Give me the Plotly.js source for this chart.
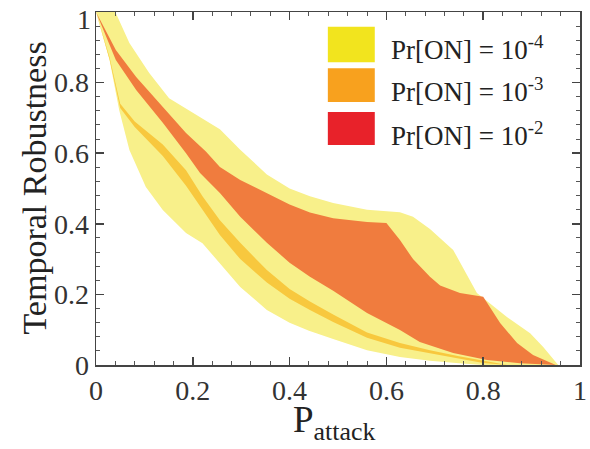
<!DOCTYPE html>
<html>
<head>
<meta charset="utf-8">
<script src="https://cdn.plot.ly/plotly-3.0.1.min.js"></script>
<style>html,body{margin:0;padding:0;background:#fff;}#chart{width:590px;height:449px;}</style>
</head>
<body>
<div id="chart"></div>
<script>
// Pr[ON] = 1e-4 band (widest, light yellow)
const yellowUpperX = [0, 0.04, 0.069, 0.11, 0.151, 0.192, 0.227, 0.256, 0.298, 0.353, 0.40, 0.442, 0.49, 0.56, 0.628, 0.655, 0.69, 0.738, 0.787, 0.849, 0.897, 0.924, 0.955];
const yellowUpperY = [1, 1, 0.912, 0.827, 0.756, 0.722, 0.694, 0.668, 0.61, 0.54, 0.50, 0.478, 0.459, 0.44, 0.433, 0.42, 0.385, 0.326, 0.204, 0.136, 0.09, 0.051, 0];
const yellowLowerX = [0, 0.028, 0.048, 0.069, 0.103, 0.138, 0.186, 0.22, 0.256, 0.298, 0.353, 0.40, 0.44, 0.49, 0.56, 0.628, 0.69, 0.75, 0.80];
const yellowLowerY = [1, 0.864, 0.722, 0.609, 0.504, 0.439, 0.374, 0.345, 0.289, 0.221, 0.156, 0.12, 0.097, 0.074, 0.042, 0.023, 0.012, 0.005, 0];

// Pr[ON] = 1e-3 band (golden stripe)
const orangeUpperX = [0, 0.028, 0.05, 0.08, 0.138, 0.186, 0.22, 0.256, 0.298, 0.353, 0.40, 0.442, 0.49, 0.56, 0.628, 0.69, 0.75, 0.80, 0.85];
const orangeUpperY = [1, 0.872, 0.74, 0.69, 0.625, 0.552, 0.478, 0.41, 0.346, 0.269, 0.215, 0.18, 0.143, 0.092, 0.062, 0.042, 0.025, 0.012, 0];
const orangeLowerX = [0, 0.028, 0.05, 0.08, 0.138, 0.186, 0.22, 0.256, 0.298, 0.353, 0.40, 0.442, 0.49, 0.56, 0.628, 0.69, 0.75, 0.80, 0.85];
const orangeLowerY = [1, 0.866, 0.728, 0.674, 0.592, 0.508, 0.44, 0.368, 0.3, 0.234, 0.188, 0.156, 0.122, 0.077, 0.049, 0.034, 0.018, 0.006, 0];

// Pr[ON] = 1e-2 band (main orange-red)
const redUpperX = [0, 0.041, 0.083, 0.138, 0.186, 0.227, 0.256, 0.298, 0.353, 0.40, 0.442, 0.49, 0.56, 0.60, 0.628, 0.655, 0.69, 0.711, 0.752, 0.80, 0.835, 0.87, 0.903, 0.95];
const redUpperY = [1, 0.892, 0.816, 0.731, 0.657, 0.605, 0.561, 0.524, 0.487, 0.455, 0.432, 0.416, 0.405, 0.402, 0.354, 0.3, 0.25, 0.225, 0.204, 0.193, 0.119, 0.062, 0.028, 0];
const redLowerX = [0, 0.041, 0.083, 0.138, 0.186, 0.215, 0.256, 0.298, 0.353, 0.40, 0.442, 0.49, 0.56, 0.628, 0.669, 0.738, 0.808, 0.876, 0.95];
const redLowerY = [1, 0.864, 0.779, 0.686, 0.6, 0.544, 0.487, 0.42, 0.346, 0.29, 0.25, 0.21, 0.147, 0.099, 0.065, 0.034, 0.014, 0.005, 0];

const legendLabels = ['Pr[ON] = 10<sup>-4</sup>', 'Pr[ON] = 10<sup>-3</sup>', 'Pr[ON] = 10<sup>-2</sup>'];
const legendColors = ['#f2e41e', '#f8a11e', '#e8222a'];
const bandColors = ['#f8f08a', '#f8c83e', '#f07c3e'];

const xTicks = [0, 0.2, 0.4, 0.6, 0.8, 1];
const yTicks = [0, 0.2, 0.4, 0.6, 0.8, 1];

function band(ux, uy, lx, ly, color) {
  return {
    type: 'scatter', mode: 'lines',
    x: ux.concat(lx.slice().reverse()),
    y: uy.concat(ly.slice().reverse()),
    fill: 'toself', fillcolor: color,
    line: {width: 0, color: color},
    hoverinfo: 'skip', showlegend: false
  };
}

const traces = [
  band(yellowUpperX, yellowUpperY, yellowLowerX, yellowLowerY, bandColors[0]),
  band(orangeUpperX, orangeUpperY, orangeLowerX, orangeLowerY, bandColors[1]),
  band(redUpperX, redUpperY, redLowerX, redLowerY, bandColors[2])
];

const serif = 'Liberation Serif, Times New Roman, serif';
const swY = [[0.858, 0.958], [0.745, 0.841], [0.623, 0.717]];
const txtY = [0.898, 0.779, 0.654];

const shapes = legendColors.map((c, i) => ({
  type: 'rect', xref: 'paper', yref: 'paper',
  x0: 0.479, x1: 0.576, y0: swY[i][0], y1: swY[i][1],
  fillcolor: c, line: {width: 0}
}));

const tickFont = {family: serif, size: 28, color: '#333'};

const annotations = legendLabels.map((t, i) => ({
  text: t, xref: 'paper', yref: 'paper', x: 0.605, y: txtY[i],
  xanchor: 'left', yanchor: 'middle', showarrow: false,
  font: {family: serif, size: 27, color: '#222'}
}));
annotations.push({
  text: 'Temporal Robustness', xref: 'paper', yref: 'paper',
  x: -0.128, y: 0.5, textangle: -90, xanchor: 'center', yanchor: 'middle',
  showarrow: false, font: {family: serif, size: 34, color: '#222'}
});
annotations.push({
  text: 'P<sub>attack</sub>', xref: 'paper', yref: 'paper',
  x: 0.492, y: -0.09, xanchor: 'center', yanchor: 'top',
  showarrow: false, font: {family: serif, size: 37, color: '#222'}
});
// top y tick label drawn slightly below the axis end, as in the reference
const topY = yTicks[yTicks.length - 1];
annotations.push({
  text: String(topY), xref: 'paper', yref: 'y', x: -0.006, y: topY, yshift: -7,
  xanchor: 'right', yanchor: 'middle', showarrow: false, font: tickFont
});

const axisCommon = {
  range: [0, 1], showgrid: false, zeroline: false,
  showline: true, linecolor: '#444', linewidth: 1.5, mirror: 'allticks',
  ticks: 'inside', ticklen: 8, tickwidth: 1.5, tickcolor: '#444',
  tickfont: tickFont,
  tickmode: 'array',
  minor: {ticks: 'inside', ticklen: 4, tickwidth: 1, tickcolor: '#555', dtick: 0.04, tick0: 0, showgrid: false}
};

const layout = {
  width: 590, height: 449,
  margin: {l: 96, r: 10, t: 12, b: 84},
  paper_bgcolor: '#fff', plot_bgcolor: '#fff',
  xaxis: Object.assign({}, axisCommon, {tickvals: xTicks, ticktext: xTicks.map(String)}),
  yaxis: Object.assign({}, axisCommon, {tickvals: yTicks, ticktext: yTicks.map((v, i) => i === yTicks.length - 1 ? '' : String(v))}),
  shapes: shapes, annotations: annotations, showlegend: false
};

Plotly.newPlot('chart', traces, layout, {staticPlot: true, displayModeBar: false});
</script>
</body>
</html>
